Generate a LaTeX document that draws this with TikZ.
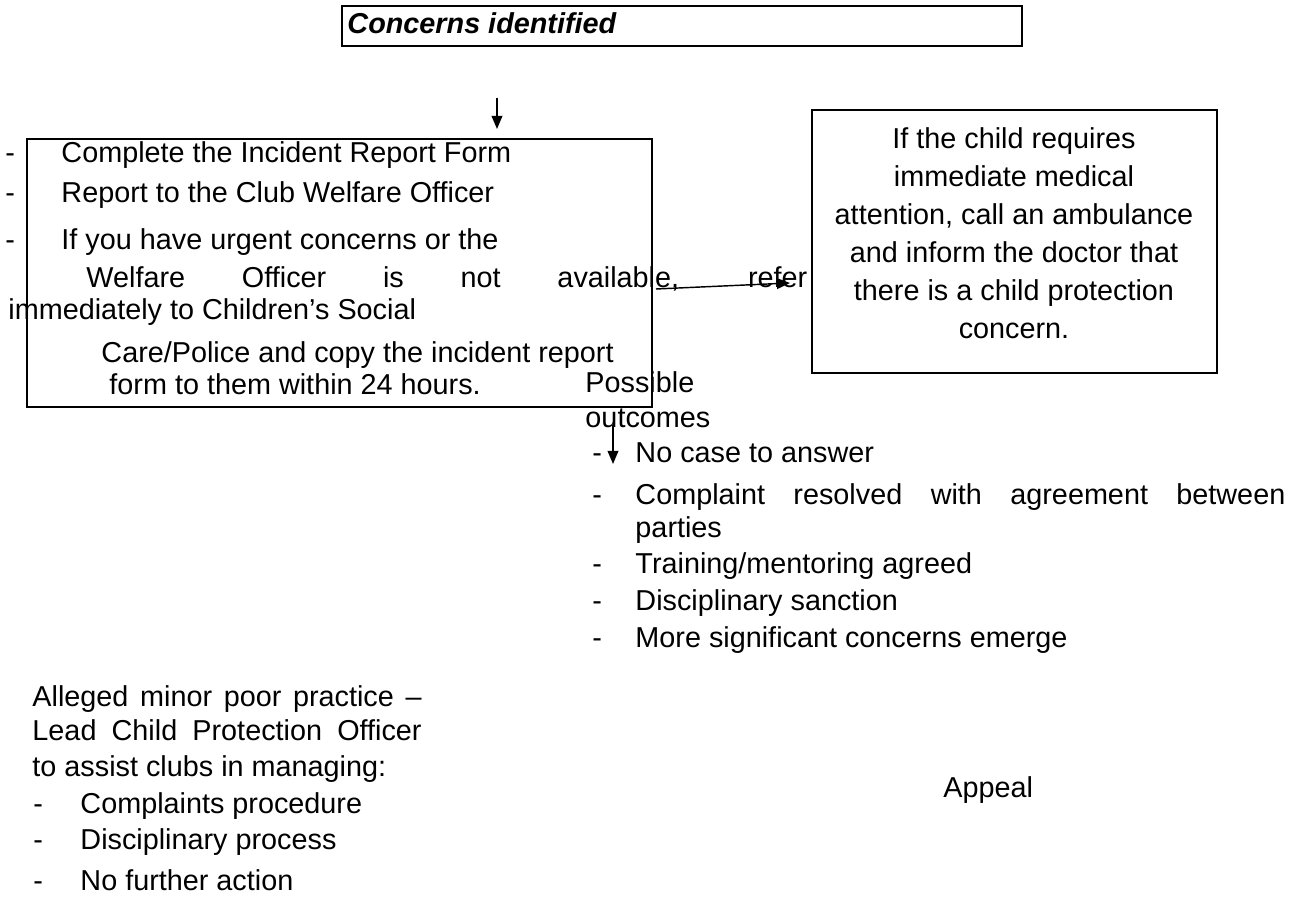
\documentclass[tikz,border=0pt]{standalone}
\usepackage{fontspec}
\setmainfont{Liberation Sans}
\usetikzlibrary{arrows.meta,fit}
\newcommand{\jline}[2]{\makebox[#1][s]{#2}}

\begin{document}
\begin{tikzpicture}[x=0.01465cm,y=-0.01465cm,
  txt/.style={anchor=base west,inner sep=0pt,font=\fontsize{12}{14}\selectfont},
  box/.style={draw,inner sep=0pt},
  arr/.style={-{Triangle[length=5.5pt,width=4.5pt]},line width=0.6pt}]
\useasboundingbox (0,0) rectangle (1304,897);

% top box
\node [box,line width=1.2pt,fit={(342,6) (1022,46)}] (concerns) {};
\node [txt,font=\fontsize{12}{14}\selectfont\bfseries\itshape] (concernstxt) at (347,34) {Concerns identified};
\coordinate (a1) at (497,98);
\coordinate (a1end) at (497,129);
\draw [arr] (a1) -- (a1end);

% report box
\node [box,line width=0.5pt,fit={(27,139) (652,407)}] (report) {};
\foreach \y/\n in {163/1,203/2,250/3}
  \node [txt] (rdash\n) at (5,\y) {-};
\node [txt] (complete) at (61,163) {Complete the Incident Report Form};
\node [txt] (club) at (61,203) {Report to the Club Welfare Officer};
\node [txt] (urgent) at (61,250) {If you have urgent concerns or the};
\node [txt] (welfare) at (86,288) {\jline{10.56cm}{Welfare Officer is not available, refer}};
\node [txt] (immed) at (8,320) {immediately to Children’s Social};
\node [txt] (care) at (101,363) {Care/Police and copy the incident report};
\node [txt] (hours) at (109,395) {form to them within 24 hours.};

% medical box
\coordinate (a2) at (656,289);
\coordinate (a2end) at (790,283);
\draw [arr] (a2) -- (a2end);
\node [box,line width=1.2pt,fit={(812,110) (1217,373)}] (medical) {};
\node [align=center,inner sep=0pt,font=\fontsize{12}{15.8}\selectfont] (medicaltxt) at (1014,233)
  {If the child requires\\immediate medical\\attention, call an ambulance\\and inform the doctor that\\there is a child protection\\concern.};

% outcomes
\node [txt] (possible) at (585,393) {Possible};
\node [txt] (outcomes) at (585,428) {outcomes};
\coordinate (a3) at (613,425);
\coordinate (a3end) at (613,464);
\draw [arr] (a3) -- (a3end);
\foreach \y/\n in {463/1,505/2,574/3,611/4,648/5}
  \node [txt] (odash\n) at (592,\y) {-};
\node [txt] (nocase) at (635,463) {No case to answer};
\node [txt] (resolved) at (635,505) {\jline{9.52cm}{Complaint resolved with agreement between}};
\node [txt] (parties) at (635,538) {parties};
\node [txt] (training) at (635,574) {Training/mentoring agreed};
\node [txt] (sanction) at (635,611) {Disciplinary sanction};
\node [txt] (emerge) at (635,648) {More significant concerns emerge};

% minor poor practice
\node [txt] (alleged) at (32,707) {\jline{5.7cm}{Alleged minor poor practice –}};
\node [txt] (lead) at (32,741) {\jline{5.7cm}{Lead Child Protection Officer}};
\node [txt] (assist) at (32,777) {to assist clubs in managing:};
\foreach \y/\n in {814/1,850/2,890/3}
  \node [txt] (mdash\n) at (33,\y) {-};
\node [txt] (procedure) at (80,814) {Complaints procedure};
\node [txt] (process) at (80,850) {Disciplinary process};
\node [txt] (noaction) at (80,890) {No further action};

\node [txt] (appeal) at (943,798) {Appeal};
\end{tikzpicture}
\end{document}
